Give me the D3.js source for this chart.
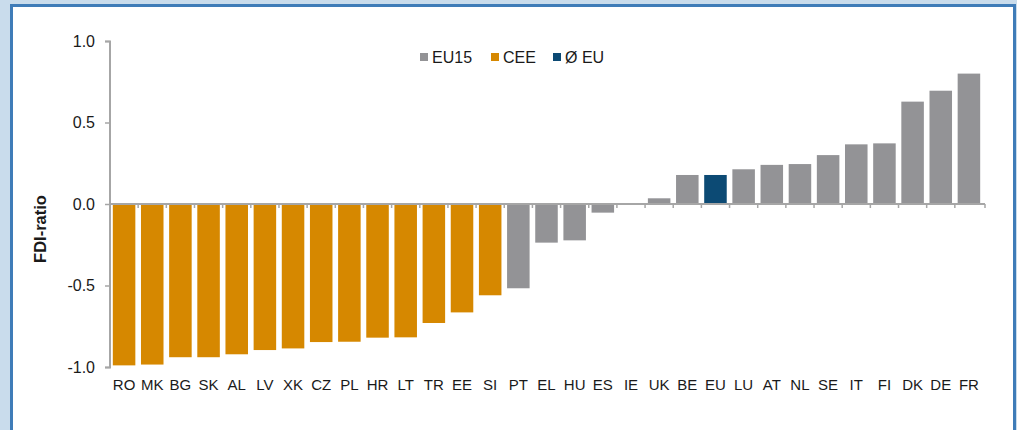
<!DOCTYPE html>
<html>
<head>
<meta charset="utf-8">
<script src="https://cdn.jsdelivr.net/npm/d3@7"></script>
<style>
    body { margin: 0; background: #c9dcec; }
    svg { display: block; font-family: "Liberation Sans", Arial, sans-serif; }
</style>
</head>
<body>
<div id="chart"></div>
<script>
const WIDTH = 1017, HEIGHT = 430;
const MARGIN = { TOP: 41, RIGHT: 32, BOTTOM: 63, LEFT: 110 },
    INNER_WIDTH = WIDTH - MARGIN.LEFT - MARGIN.RIGHT,
    INNER_HEIGHT = HEIGHT - MARGIN.TOP - MARGIN.BOTTOM;

// data
const countries = ["RO", "MK", "BG", "SK", "AL", "LV", "XK", "CZ", "PL", "HR", "LT", "TR", "EE", "SI",
    "PT", "EL", "HU", "ES", "IE", "UK", "BE", "EU", "LU", "AT", "NL", "SE", "IT", "FI", "DK", "DE", "FR"];
const fdiRatio = [-0.99, -0.985, -0.94, -0.94, -0.922, -0.896, -0.886, -0.847, -0.845, -0.82, -0.818, -0.73, -0.665, -0.56,
    -0.517, -0.237, -0.223, -0.053, 0.0, 0.035, 0.178, 0.178, 0.213, 0.24, 0.245, 0.30, 0.366, 0.372, 0.628, 0.695, 0.80];
const groups = ["CEE", "CEE", "CEE", "CEE", "CEE", "CEE", "CEE", "CEE", "CEE", "CEE", "CEE", "CEE", "CEE", "CEE",
    "EU15", "EU15", "EU15", "EU15", "EU15", "EU15", "EU15", "EU", "EU15", "EU15", "EU15", "EU15", "EU15", "EU15", "EU15", "EU15", "EU15"];
const yTicks = [-1.0, -0.5, 0.0, 0.5, 1.0];
const legendKeys = ["EU15", "CEE", "EU"];
const legendLabels = ["EU15", "CEE", "Ø EU"];

const colorMapping = { "EU15": "#939396", "CEE": "#d68800", "EU": "#0c4a74" };

const data = countries.map((c, i) => ({ country: c, value: fdiRatio[i], group: groups[i] }));

const svg = d3.select("#chart").append("svg")
    .attr("width", WIDTH)
    .attr("height", HEIGHT);

// panel with blue frame
svg.append("rect")
    .attr("x", 11.5)
    .attr("y", 5.5)
    .attr("width", 1003)
    .attr("height", 440)
    .attr("fill", "#fff")
    .attr("stroke", "#3f7cb8")
    .attr("stroke-width", 3);

const g = svg.append("g")
    .attr("transform", `translate(${MARGIN.LEFT}, ${MARGIN.TOP})`);

// Scales
const xScale = d3.scaleBand()
    .domain(countries)
    .range([0, INNER_WIDTH - 2])
    .paddingInner(0.2)
    .paddingOuter(0.1);
const yScale = d3.scaleLinear()
    .domain([-1, 1])
    .range([INNER_HEIGHT, 0]);

// Bars
g.selectAll(".bar")
    .data(data)
    .join("rect")
    .attr("class", "bar")
    .attr("x", d => xScale(d.country))
    .attr("y", d => yScale(Math.max(0, d.value)))
    .attr("width", xScale.bandwidth())
    .attr("height", d => Math.abs(yScale(d.value) - yScale(0)))
    .style("fill", d => colorMapping[d.group]);

// y axis
const yAxis = g.append("g")
    .attr("class", "y-axis")
    .call(d3.axisLeft(yScale).tickValues(yTicks).tickSize(5).tickPadding(10).tickFormat(d => d.toFixed(1)));
yAxis.select(".domain").attr("stroke", "#a6a6a6").attr("stroke-width", 2).attr("d", `M-5,0.5H0V${INNER_HEIGHT + 0.5}H-5`);
yAxis.selectAll(".tick line").attr("stroke", "#a6a6a6").attr("stroke-width", 1.5);
yAxis.selectAll("text")
    .style("font-size", "16px")
    .attr("fill", "#1a1a1a");

// x axis at zero with ticks between bars
const step = xScale.step();
const gap = step - xScale.bandwidth();
const xAxisG = g.append("g")
    .attr("class", "x-axis")
    .attr("transform", `translate(0, ${yScale(0)})`);
xAxisG.append("line")
    .attr("x1", 0)
    .attr("x2", INNER_WIDTH)
    .attr("stroke", "#a6a6a6")
    .attr("stroke-width", 2);
xAxisG.selectAll(".sep")
    .data(countries.slice(1).concat(["__end"]))
    .join("line")
    .attr("class", "sep")
    .attr("x1", d => d === "__end" ? INNER_WIDTH : xScale(d) - gap / 2)
    .attr("x2", d => d === "__end" ? INNER_WIDTH : xScale(d) - gap / 2)
    .attr("y1", 0)
    .attr("y2", 4)
    .attr("stroke", "#a6a6a6")
    .attr("stroke-width", 1.5);

// category labels along the bottom
g.selectAll(".xlabel")
    .data(countries)
    .join("text")
    .attr("class", "xlabel")
    .attr("x", d => xScale(d) + xScale.bandwidth() / 2)
    .attr("y", INNER_HEIGHT + 23)
    .attr("text-anchor", "middle")
    .style("font-size", "15px")
    .attr("fill", "#1a1a1a")
    .text(d => d);

// Axis title
svg.append("text")
    .attr("transform", "rotate(-90)")
    .attr("x", -229)
    .attr("y", 46)
    .attr("text-anchor", "middle")
    .style("font-size", "16.5px")
    .style("font-weight", "bold")
    .attr("fill", "#1a1a1a")
    .text("FDI-ratio");

// Legend
const legendX = [420, 491, 553];
const legend = svg.selectAll(".legend")
    .data(legendKeys)
    .join("g")
    .attr("class", "legend")
    .attr("transform", (d, i) => `translate(${legendX[i]}, 53)`);
legend.append("rect")
    .attr("width", 8)
    .attr("height", 8)
    .attr("fill", d => colorMapping[d]);
legend.append("text")
    .attr("x", 12)
    .attr("y", 9.5)
    .style("font-size", "16px")
    .attr("fill", "#1a1a1a")
    .text((d, i) => legendLabels[i]);
</script>
</body>
</html>
